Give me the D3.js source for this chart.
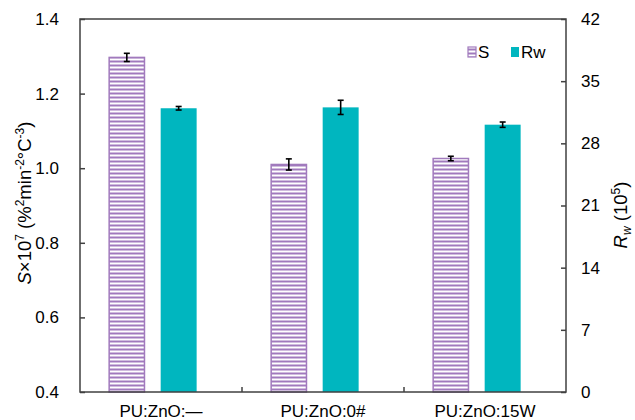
<!DOCTYPE html>
<html><head><meta charset="utf-8">
<script src="https://cdn.jsdelivr.net/npm/d3@7"></script>
<style>body{margin:0;background:#fff;} svg{display:block;font-family:"Liberation Sans",Arial,sans-serif;}</style>
</head><body>
<svg id="c" width="635" height="420"></svg>
<script>
const categories = ["PU:ZnO:\u2014", "PU:ZnO:0#", "PU:ZnO:15W"];
const sValues = [1.297, 1.010, 1.026];
const sErrors = [0.011, 0.015, 0.006];
const rwValues = [31.95, 32.05, 30.1];
const rwErrors = [0.2, 0.8, 0.3];
const leftTicks = [0.4, 0.6, 0.8, 1.0, 1.2, 1.4];
const rightTicks = [0, 7, 14, 21, 28, 35, 42];
const seriesNames = ["S", "Rw"];

const purple = "#a17abd", teal = "#00b6bf", axisCol = "#404040";
const svg = d3.select("#c");
const L = 80, R = 566, T = 19, B = 392;

const defs = svg.append("defs");
const pat = defs.append("pattern").attr("id", "hatch").attr("patternUnits", "userSpaceOnUse")
  .attr("width", 8).attr("height", 4).attr("y", 0.5);
pat.append("rect").attr("width", 8).attr("height", 4).attr("fill", "#fff");
pat.append("rect").attr("y", 0).attr("width", 8).attr("height", 2).attr("fill", purple);

const x = d3.scaleBand().domain(categories).range([L, R]);
const yL = d3.scaleLinear().domain([0.4, 1.4]).range([B, T]);
const yR = d3.scaleLinear().domain([0, 42]).range([B, T]);
const bw = x.bandwidth();

const g = svg.append("g");
// S bars
g.selectAll("rect.s").data(categories).join("rect")
  .attr("x", d => x(d) + 0.18 * bw).attr("width", 0.218 * bw)
  .attr("y", (d, i) => yL(sValues[i])).attr("height", (d, i) => yL(0.4) - yL(sValues[i]))
  .attr("fill", "url(#hatch)").attr("stroke", purple).attr("stroke-width", 1.5);
// Rw bars
g.selectAll("rect.r").data(categories).join("rect")
  .attr("x", d => x(d) + 0.498 * bw).attr("width", 0.222 * bw)
  .attr("y", (d, i) => yR(rwValues[i])).attr("height", (d, i) => yR(0) - yR(rwValues[i]))
  .attr("fill", teal);

function errBar(cx, y1, y2) {
  const e = g.append("g").attr("stroke", "#000").attr("stroke-width", 1.6);
  e.append("line").attr("x1", cx).attr("x2", cx).attr("y1", y1).attr("y2", y2);
  e.append("line").attr("x1", cx - 3).attr("x2", cx + 3).attr("y1", y1).attr("y2", y1);
  e.append("line").attr("x1", cx - 3).attr("x2", cx + 3).attr("y1", y2).attr("y2", y2);
}
categories.forEach((c, i) => {
  errBar(x(c) + 0.18 * bw + 0.109 * bw, yL(sValues[i] + sErrors[i]), yL(sValues[i] - sErrors[i]));
  errBar(x(c) + 0.498 * bw + 0.111 * bw, yR(rwValues[i] + rwErrors[i]), yR(rwValues[i] - rwErrors[i]));
});

// frame
svg.append("rect").attr("x", L).attr("y", T).attr("width", R - L).attr("height", B - T)
  .attr("fill", "none").attr("stroke", axisCol).attr("stroke-width", 1.5);

// axes
const axL = svg.append("g").attr("transform", `translate(${L},0)`)
  .call(d3.axisLeft(yL).tickValues(leftTicks).tickFormat(d3.format(".1f")).tickSizeInner(-5).tickSizeOuter(0).tickPadding(21));
const axR = svg.append("g").attr("transform", `translate(${R},0)`)
  .call(d3.axisRight(yR).tickValues(rightTicks).tickSizeInner(-5).tickSizeOuter(0).tickPadding(15));
const axB = svg.append("g").attr("transform", `translate(0,${B})`)
  .call(d3.axisBottom(x).tickSizeInner(0).tickSizeOuter(0).tickPadding(15));
[axL, axR, axB].forEach(a => {
  a.select(".domain").remove();
  a.selectAll("line").attr("stroke", axisCol).attr("stroke-width", 1.5);
  a.selectAll("text").attr("font-size", 17).attr("fill", "#000")
    .attr("font-family", "'Liberation Sans',Arial,sans-serif");
});
axB.selectAll("text").attr("dy", null).attr("y", 25);
// category separator ticks (inward)
svg.append("g").selectAll("line").data(categories.slice(1)).join("line")
  .attr("x1", d => x(d)).attr("x2", d => x(d)).attr("y1", B).attr("y2", B - 5)
  .attr("stroke", axisCol).attr("stroke-width", 1.5);

// Left title
const tl = svg.append("text").attr("transform", `translate(31,203) rotate(-90)`)
  .attr("text-anchor", "middle").attr("font-size", 18.5);
tl.append("tspan").attr("font-style", "italic").text("S");
tl.append("tspan").text("×10");
tl.append("tspan").attr("font-size", 12).attr("dy", -7).text("7");
tl.append("tspan").attr("dy", 7).text(" (%");
tl.append("tspan").attr("font-size", 12).attr("dy", -7).text("2");
tl.append("tspan").attr("dy", 7).text("min");
tl.append("tspan").attr("font-size", 12).attr("dy", -7).text("-2");
tl.append("tspan").attr("dy", 7).text("°C");
tl.append("tspan").attr("font-size", 12).attr("dy", -7).text("-3");
tl.append("tspan").attr("dy", 7).text(")");

// Right title
const tr = svg.append("text").attr("transform", `translate(627,215) rotate(-90)`)
  .attr("text-anchor", "middle").attr("font-size", 18.5);
tr.append("tspan").attr("font-style", "italic").text("R");
tr.append("tspan").attr("font-style", "italic").attr("font-size", 12).attr("dy", 4).text("w");
tr.append("tspan").attr("dy", -4).text(" (10");
tr.append("tspan").attr("font-size", 12).attr("dy", -7).text("5");
tr.append("tspan").attr("dy", 7).text(")");

// Legend
const lg = svg.append("g").attr("font-size", 17);
const legX = [468, 511];
seriesNames.forEach((n, i) => {
  const r = lg.append("rect").attr("x", legX[i]).attr("y", 47).attr("width", 8).attr("height", 10);
  if (i === 0) r.attr("fill", "url(#hatch)").attr("stroke", purple).attr("stroke-width", 1.2);
  else r.attr("fill", teal);
  lg.append("text").attr("x", legX[i] + 10).attr("y", 58).text(n);
});
</script>
</body></html>
